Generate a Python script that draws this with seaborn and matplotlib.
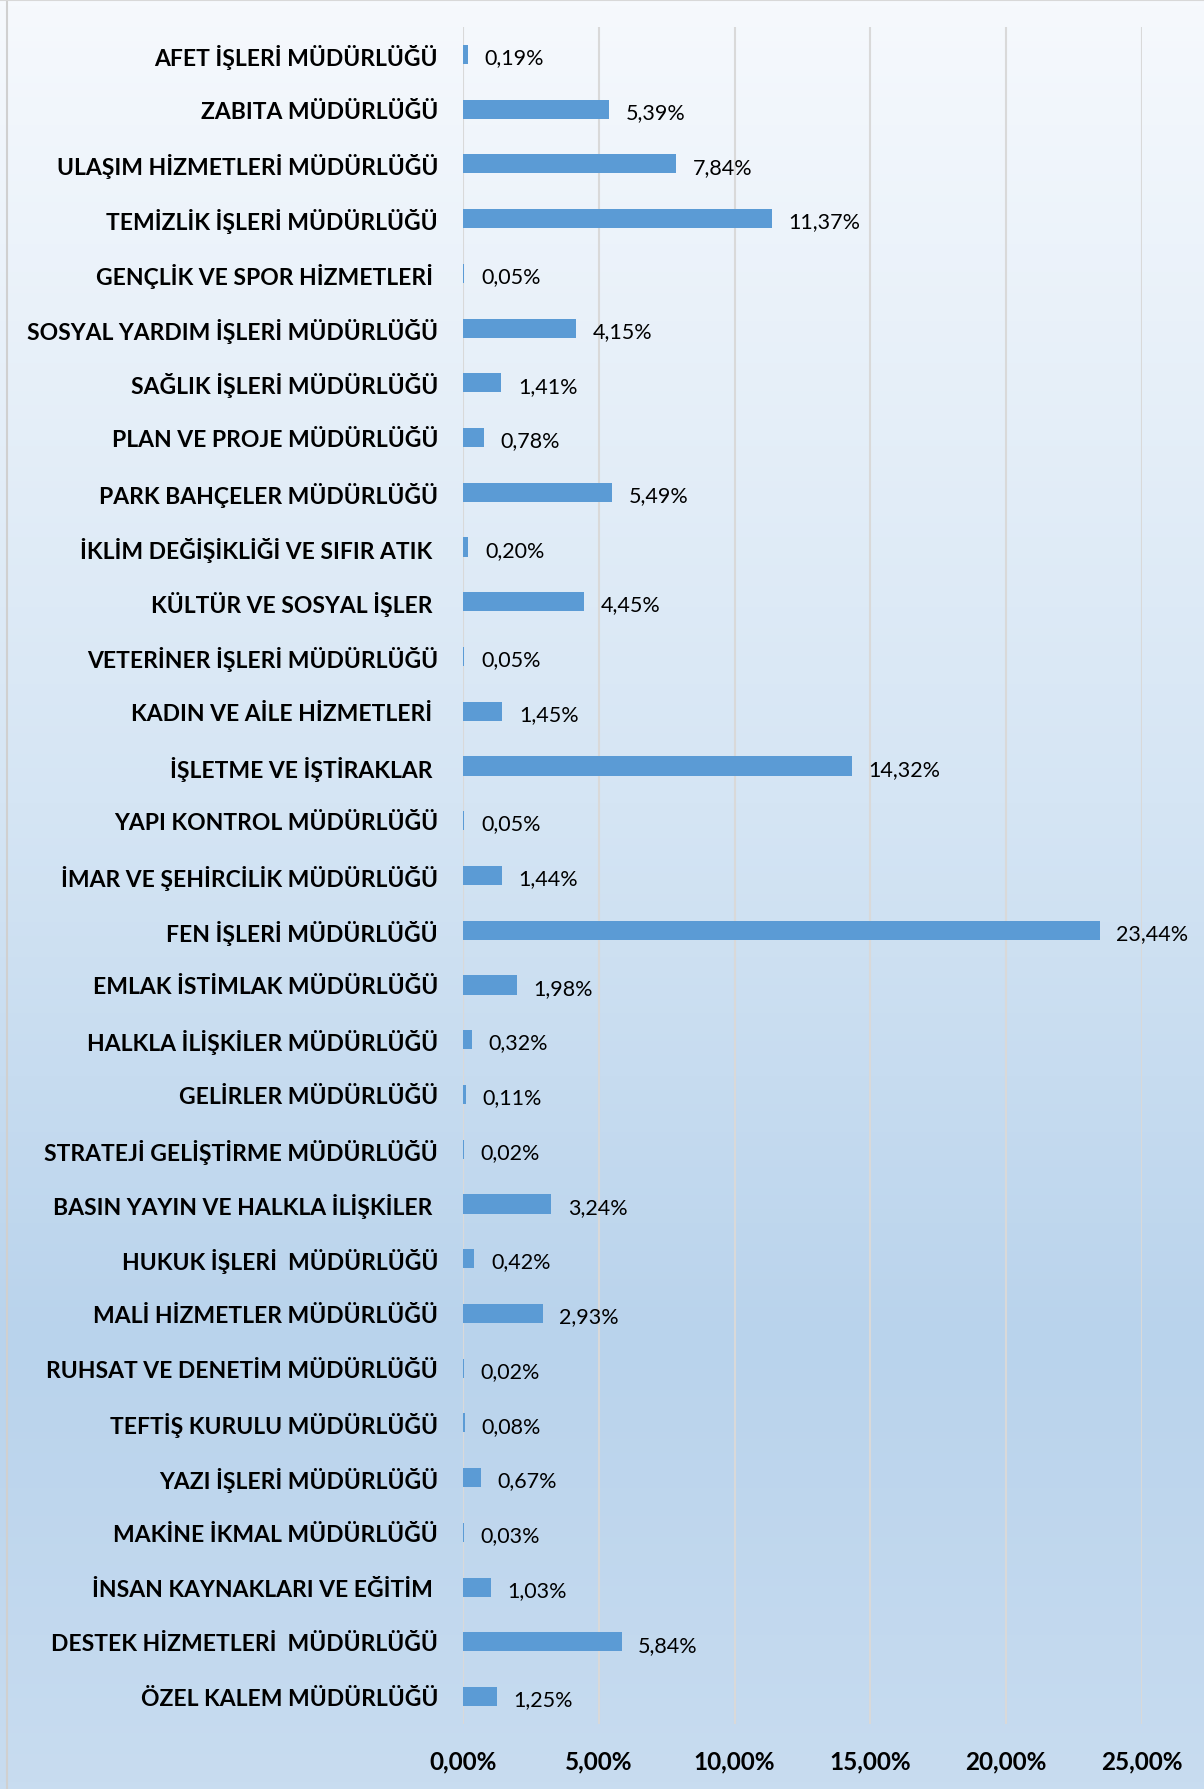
import numpy as np
import pandas as pd
import matplotlib
matplotlib.use("Agg")
import matplotlib.pyplot as plt
import seaborn as sns
from matplotlib.colors import LinearSegmentedColormap
from matplotlib.lines import Line2D

categories = [
    "AFET İŞLERİ MÜDÜRLÜĞÜ",
    "ZABITA MÜDÜRLÜĞÜ",
    "ULAŞIM HİZMETLERİ MÜDÜRLÜĞÜ",
    "TEMİZLİK İŞLERİ MÜDÜRLÜĞÜ",
    "GENÇLİK VE SPOR HİZMETLERİ ",
    "SOSYAL YARDIM İŞLERİ MÜDÜRLÜĞÜ",
    "SAĞLIK İŞLERİ MÜDÜRLÜĞÜ",
    "PLAN VE PROJE MÜDÜRLÜĞÜ",
    "PARK BAHÇELER MÜDÜRLÜĞÜ",
    "İKLİM DEĞİŞİKLİĞİ VE SIFIR ATIK ",
    "KÜLTÜR VE SOSYAL İŞLER ",
    "VETERİNER İŞLERİ MÜDÜRLÜĞÜ",
    "KADIN VE AİLE HİZMETLERİ ",
    "İŞLETME VE İŞTİRAKLAR ",
    "YAPI KONTROL MÜDÜRLÜĞÜ",
    "İMAR VE ŞEHİRCİLİK MÜDÜRLÜĞÜ",
    "FEN İŞLERİ MÜDÜRLÜĞÜ",
    "EMLAK İSTİMLAK MÜDÜRLÜĞÜ",
    "HALKLA İLİŞKİLER MÜDÜRLÜĞÜ",
    "GELİRLER MÜDÜRLÜĞÜ",
    "STRATEJİ GELİŞTİRME MÜDÜRLÜĞÜ",
    "BASIN YAYIN VE HALKLA İLİŞKİLER ",
    "HUKUK İŞLERİ  MÜDÜRLÜĞÜ",
    "MALİ HİZMETLER MÜDÜRLÜĞÜ",
    "RUHSAT VE DENETİM MÜDÜRLÜĞÜ",
    "TEFTİŞ KURULU MÜDÜRLÜĞÜ",
    "YAZI İŞLERİ MÜDÜRLÜĞÜ",
    "MAKİNE İKMAL MÜDÜRLÜĞÜ",
    "İNSAN KAYNAKLARI VE EĞİTİM ",
    "DESTEK HİZMETLERİ  MÜDÜRLÜĞÜ",
    "ÖZEL KALEM MÜDÜRLÜĞÜ",
]
values = [
    0.19, 5.39, 7.84, 11.37, 0.05, 4.15, 1.41, 0.78, 5.49, 0.20,
    4.45, 0.05, 1.45, 14.32, 0.05, 1.44, 23.44, 1.98, 0.32, 0.11,
    0.02, 3.24, 0.42, 2.93, 0.02, 0.08, 0.67, 0.03, 1.03, 5.84, 1.25,
]
x_ticks = [0, 5, 10, 15, 20, 25]

df = pd.DataFrame({"birim": categories, "oran": values})

sns.set_theme(style="white")
plt.rcParams["font.family"] = ["Lato", "DejaVu Sans"]

W, H = 1204, 1790
fig = plt.figure(figsize=(W / 100, H / 100), dpi=100)

# gradient background
bg = fig.add_axes([0, 0, 1, 1], zorder=0)
cmap = LinearSegmentedColormap.from_list(
    "bg", [(0.0, "#f6f9fd"), (0.45, "#d5e5f4"), (0.75, "#b9d3ec"), (1.0, "#c8dcf0")]
)
grad = np.linspace(0, 1, 512).reshape(-1, 1)
bg.imshow(grad, aspect="auto", cmap=cmap, extent=[0, 1, 0, 1], origin="upper")
bg.set_axis_off()

# chart border lines (left and top)
fig.add_artist(Line2D([6.5 / W, 6.5 / W], [0, 1], color="#d0d0d0", lw=1.5, zorder=1))
fig.add_artist(Line2D([0, 1], [1 - 1 / H, 1 - 1 / H], color="#d8d8d8", lw=1.5, zorder=1))

left, right = 463 / W, 1142 / W
top, bottom = 1 - 28 / H, 1 - 1725 / H
ax = fig.add_axes([left, bottom, right - left, top - bottom], zorder=2)
ax.patch.set_alpha(0)

sns.barplot(data=df, x="oran", y="birim", orient="h", color="#5b9bd5",
            width=0.35, saturation=1, ax=ax, zorder=3, linewidth=0)

ax.set_xlim(0, 25)
ax.set_xticks(x_ticks)
ax.set_xticklabels([f"{t:.2f}".replace(".", ",") + "%" for t in x_ticks],
                   fontsize=17.5, fontweight="bold", color="#000000")
ax.tick_params(axis="x", length=0, pad=18)
ax.tick_params(axis="y", length=0, pad=18)
for lbl in ax.get_yticklabels():
    lbl.set_fontsize(16.5)
    lbl.set_fontweight("bold")
    lbl.set_color("#000000")
ax.set_xlabel("")
ax.set_ylabel("")
ax.grid(axis="x", color="#d9d9d9", lw=1.5, zorder=0)
ax.grid(axis="y", visible=False)
ax.set_axisbelow(True)
for s in ax.spines.values():
    s.set_visible(False)

for cont in ax.containers:
    anns = ax.bar_label(cont, labels=[f"{v:.2f}".replace(".", ",") + "%" for v in values],
                        padding=12, fontsize=15.5, color="#000000")
    for a in anns:
        a.xyann = (12, -2)

fig.savefig("out.png", dpi=100)
